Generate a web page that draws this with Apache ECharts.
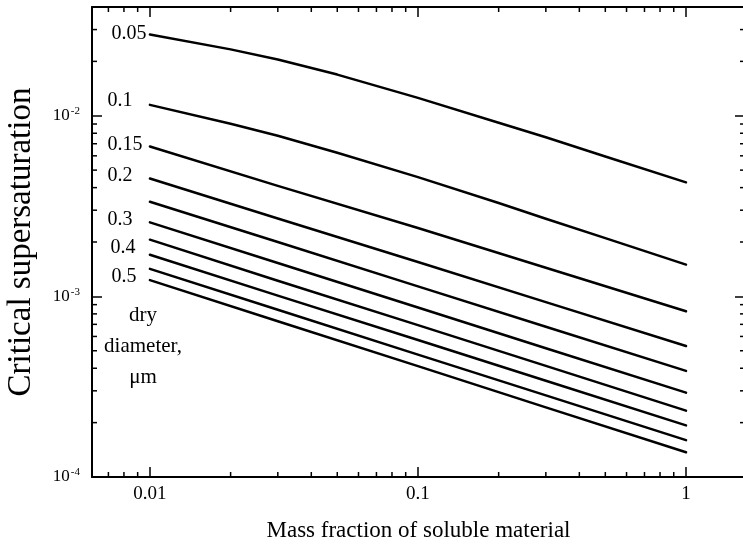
<!DOCTYPE html>
<html><head><meta charset="utf-8">
<script src="https://cdn.jsdelivr.net/npm/echarts@6/dist/echarts.min.js"></script>
<style>html,body{margin:0;padding:0;background:#fff}#c{width:743px;height:551px}</style>
</head><body><div id="c"></div>
<script>
// ---- data ----
const fineFrac   = [0.01, 0.02, 0.03, 0.05, 0.1, 0.2, 0.3, 0.5, 1];
const coarseFrac = [0.01, 0.03, 0.1, 0.3, 1];

const sc005 = [0.0282, 0.0233, 0.0205, 0.0169, 0.01256, 0.00915, 0.00760, 0.00595, 0.00428];
const sc010 = [0.01149, 0.00902, 0.00775, 0.00624, 0.00457, 0.00329, 0.00269, 0.00210, 0.00150];
const sc015 = [0.00676, 0.00409, 0.00239, 0.00144, 0.000827];
const sc020 = [0.00449, 0.00270, 0.00155, 0.000929, 0.000531];
const sc025 = [0.00334, 0.00200, 0.001136, 0.000679, 0.000387];
const sc030 = [0.00257, 0.00153, 0.000868, 0.000516, 0.000293];
const sc035 = [0.00206, 0.00122, 0.000693, 0.000412, 0.000233];
const sc040 = [0.00170, 0.00101, 0.000573, 0.000341, 0.000193];
const sc045 = [0.00142, 0.000843, 0.000476, 0.000283, 0.000160];
const sc050 = [0.00123, 0.000728, 0.000411, 0.000243, 0.000137];

const diameterText = ['0.05', '0.1', '0.15', '0.2', '', '0.3', '', '0.4', '', '0.5'];
const noteLines = ['dry', 'diameter,', '\u03bcm'];

const xMinorTicks = [0.007, 0.008, 0.009,
  0.02, 0.03, 0.04, 0.05, 0.06, 0.07, 0.08, 0.09,
  0.2, 0.3, 0.4, 0.5, 0.6, 0.7, 0.8, 0.9];
const yMinorTicks = [0.0002, 0.0003, 0.0004, 0.0005, 0.0006, 0.0007, 0.0008, 0.0009,
  0.002, 0.003, 0.004, 0.005, 0.006, 0.007, 0.008, 0.009,
  0.02, 0.03];

const xTitle = 'Mass fraction of soluble material';
const yTitle = 'Critical supersaturation';

// ---- chart ----
const FONT = 'Liberation Serif';
const curves = [
  [fineFrac, sc005], [fineFrac, sc010], [coarseFrac, sc015], [coarseFrac, sc020],
  [coarseFrac, sc025], [coarseFrac, sc030], [coarseFrac, sc035], [coarseFrac, sc040],
  [coarseFrac, sc045], [coarseFrac, sc050]
];
// label placement style: [gap left of line start, vertical offset]
const labelPlace = [[3, 0], [17, -4], [7, -1], [17, -2], [0, 0], [17, -2], [0, 0], [14, -6], [0, 0], [13, -3]];

const lineSeries = curves.map((c, i) => {
  const data = c[0].map((x, j) => [x, c[1][j]]);
  if (diameterText[i]) {
    data[0] = {
      value: data[0],
      label: {
        show: true, position: [-labelPlace[i][0], labelPlace[i][1]],
        align: 'right', verticalAlign: 'middle',
        formatter: diameterText[i], fontFamily: FONT, fontSize: 20, color: '#000'
      }
    };
  }
  return {
    type: 'line', name: diameterText[i] || ('d' + i), data: data,
    symbol: 'circle', symbolSize: 1, showSymbol: true, showAllSymbol: true, silent: true,
    itemStyle: { color: '#000' },
    smooth: false,
    lineStyle: { color: '#000', width: 2.5, join: 'round', cap: 'round' },
    labelLayout: { hideOverlap: false }
  };
});

function powLabel(v) {
  const e = Math.log10(v);
  const r = Math.round(e);
  if (Math.abs(e - r) > 1e-6) return '';
  return r;
}

const minorX = {
  type: 'custom', silent: true, clip: false,
  data: xMinorTicks.map(v => [v, 0.001]),
  encode: { x: 0, y: 1 },
  renderItem: function (params, api) {
    const cs = params.coordSys;
    const x = api.coord([api.value(0), api.value(1)])[0];
    const b = cs.y + cs.height, t = cs.y;
    return { type: 'group', children: [
      { type: 'line', shape: { x1: x, y1: b, x2: x, y2: b - 5 }, style: { stroke: '#000', lineWidth: 1.5 } },
      { type: 'line', shape: { x1: x, y1: t, x2: x, y2: t + 5 }, style: { stroke: '#000', lineWidth: 1.5 } }
    ] };
  }
};
const minorY = {
  type: 'custom', silent: true, clip: false,
  data: yMinorTicks.map(v => [0.1, v]),
  encode: { x: 0, y: 1 },
  renderItem: function (params, api) {
    const cs = params.coordSys;
    const y = api.coord([api.value(0), api.value(1)])[1];
    const l = cs.x, r = cs.x + cs.width;
    return { type: 'group', children: [
      { type: 'line', shape: { x1: l, y1: y, x2: l + 5, y2: y }, style: { stroke: '#000', lineWidth: 1.5 } },
      { type: 'line', shape: { x1: r, y1: y, x2: r - 5, y2: y }, style: { stroke: '#000', lineWidth: 1.5 } }
    ] };
  }
};

const axisLineStyle = { color: '#000', width: 2 };
const chart = echarts.init(document.getElementById('c'), null, { renderer: 'canvas' });
chart.setOption({
  animation: false,
  backgroundColor: '#fff',
  grid: { left: 92, right: -2, top: 7, bottom: 74, containLabel: false, outerBoundsMode: 'none' },
  xAxis: [{
    type: 'log', min: 0.00608, max: 1.66, position: 'bottom',
    name: xTitle, nameLocation: 'middle', nameGap: 42,
    nameTextStyle: { fontFamily: FONT, fontSize: 23, color: '#000' },
    axisLine: { show: true, lineStyle: axisLineStyle },
    axisTick: { show: true, inside: true, length: 10, lineStyle: { color: '#000', width: 1.5 } },
    minorTick: { show: false }, splitLine: { show: false },
    axisLabel: {
      margin: 8, fontFamily: FONT, fontSize: 19, color: '#000',
      formatter: v => { const r = powLabel(v); return r === '' ? '' : String(Math.pow(10, r)); }
    }
  }, {
    type: 'log', min: 0.00608, max: 1.66, position: 'top',
    axisLine: { show: true, lineStyle: axisLineStyle },
    axisTick: { show: true, inside: true, length: 10, lineStyle: { color: '#000', width: 1.5 } },
    axisLabel: { show: false }, splitLine: { show: false }
  }],
  yAxis: [{
    type: 'log', min: 0.0001, max: 0.04, position: 'left',
    name: yTitle, nameLocation: 'middle', nameGap: 54, nameRotate: 90,
    nameTextStyle: { fontFamily: FONT, fontSize: 33, color: '#000' },
    axisLine: { show: true, lineStyle: axisLineStyle },
    axisTick: { show: true, inside: true, length: 10, lineStyle: { color: '#000', width: 1.5 } },
    minorTick: { show: false }, splitLine: { show: false },
    axisLabel: {
      margin: 12, color: '#000',
      formatter: v => { const r = powLabel(v); return r === '' ? '' : '{b|10}{s|' + r + '}'; },
      rich: {
        b: { fontFamily: FONT, fontSize: 17, color: '#000', lineHeight: 20 },
        s: { fontFamily: FONT, fontSize: 11, color: '#000', verticalAlign: 'top', lineHeight: 12, padding: [0, 0, 8, 1] }
      }
    }
  }, {
    type: 'log', min: 0.0001, max: 0.04, position: 'right',
    axisLine: { show: true, lineStyle: axisLineStyle },
    axisTick: { show: true, inside: true, length: 10, lineStyle: { color: '#000', width: 1.5 } },
    axisLabel: { show: false }, splitLine: { show: false }
  }],
  graphic: noteLines.map((t, i) => ({
    type: 'text', x: 143, y: 305 + i * 31, silent: true,
    style: { text: t, fontFamily: FONT, fontSize: 21, fill: '#000', textAlign: 'center' }
  })),
  series: lineSeries.concat([minorX, minorY])
});
</script>
</body></html>
